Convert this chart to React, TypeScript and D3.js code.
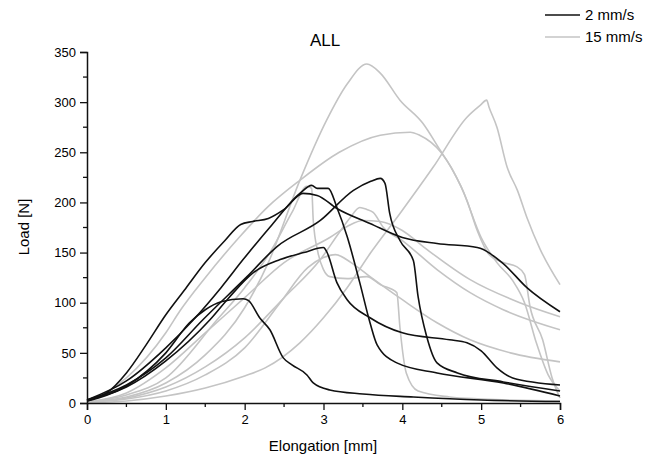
import React, { useEffect, useRef } from "react";
import * as d3 from "d3";

// elongation [mm], load [N] pairs
type Pt = [number, number];

// 2 mm/s runs
const slow1: Pt[] = [[0,2],[0.5,17],[1.0,50],[1.3,80],[1.5,93],[1.7,101],[1.98,104],[2.05,102],[2.19,85],[2.32,73],[2.49,45],[2.6,38],[2.79,28],[2.87,20],[3.08,13],[3.5,9],[4.14,6],[5,3],[6,1.5]];
const slow2: Pt[] = [[0,2],[0.25,10],[0.5,30],[0.75,58],[1.0,88],[1.25,114],[1.5,140],[1.75,162],[1.95,178],[2.1,181],[2.3,184],[2.5,193],[2.74,209],[2.92,207],[3.17,194],[3.59,179],[4.0,165],[4.44,159],[4.95,155],[5.28,139],[5.58,115],[6,91]];
const slow3: Pt[] = [[0,3],[0.5,22],[1.0,55],[1.35,83],[1.7,115],[1.98,143],[2.35,178],[2.7,209],[2.85,217],[2.92,214],[3.06,214],[3.17,195],[3.3,166],[3.46,120],[3.59,80],[3.68,58],[3.93,40],[4.44,30],[5.28,20],[6,7]];
const slow4: Pt[] = [[0,3],[0.5,18],[1.0,45],[1.47,83],[2.03,126],[2.41,156],[2.96,182],[3.38,212],[3.6,221],[3.72,224],[3.78,219],[3.84,189],[3.97,162],[4.14,142],[4.2,106],[4.31,66],[4.44,40],[4.7,30],[5.28,21],[6,12]];
const slow5: Pt[] = [[0,3],[0.5,16],[1.0,42],[1.56,83],[1.8,105],[2.11,130],[2.45,143],[2.75,150],[3.0,155],[3.04,151],[3.17,120],[3.3,103],[3.59,85],[4.0,70],[4.6,63],[4.82,60],[5.0,52],[5.2,35],[5.4,25],[6,18]];

// 15 mm/s runs
const fast1: Pt[] = [[0,1],[0.5,6],[1.0,20],[1.5,48],[2.0,95],[2.3,140],[2.7,222],[3.04,282],[3.3,318],[3.55,338],[3.72,329],[3.97,302],[4.26,279],[4.48,252],[4.64,232],[4.82,202],[4.95,172],[5.1,148],[5.28,140],[5.45,136],[5.55,128],[5.62,96],[5.78,63],[5.9,25],[6,5]];
const fast2: Pt[] = [[0,1],[0.5,25],[1.0,70],[1.18,92],[1.5,125],[1.94,166],[2.3,196],[2.7,222],[3.2,250],[3.72,267],[4.1,270],[4.22,267],[4.5,249],[4.75,215],[5.0,165],[5.2,140],[5.4,122],[5.55,100],[5.7,60],[5.85,28],[6,12]];
const fast3: Pt[] = [[0,0],[0.5,2],[1.0,7],[1.5,15],[2.0,27],[2.26,35],[2.7,60],[3.0,85],[3.3,115],[3.6,150],[3.97,189],[4.39,235],[4.82,285],[4.99,297],[5.07,302],[5.1,295],[5.2,275],[5.33,235],[5.46,212],[5.58,185],[5.75,153],[6,118]];
const fast4: Pt[] = [[0,1],[0.5,5],[1.0,16],[1.5,36],[2.0,65],[2.5,105],[2.96,143],[3.2,170],[3.34,185],[3.46,195],[3.55,193],[3.63,190],[3.76,175],[4.0,162],[4.44,133],[4.86,110],[5.28,93],[6,73]];
const fast5: Pt[] = [[0,1],[0.5,10],[1.0,35],[1.5,70],[2.0,105],[2.5,140],[3.08,165],[3.3,176],[3.5,182],[3.72,181],[4.0,172],[4.28,155],[4.86,123],[5.49,100],[6,86]];
const fast6: Pt[] = [[0,1],[0.5,8],[1.0,25],[1.65,83],[2.0,115],[2.32,150],[2.6,190],[2.79,216],[2.85,214],[2.87,182],[2.93,150],[3.0,133],[3.08,126],[3.3,124],[3.55,126],[3.72,118],[3.93,110],[3.97,75],[4.05,30],[4.2,12],[4.6,6],[5,4],[6,2]];
const fast7: Pt[] = [[0,1],[0.5,4],[1.0,12],[1.5,28],[2.0,55],[2.45,100],[2.8,135],[3.0,145],[3.15,148],[3.35,140],[3.59,126],[4.0,103],[4.44,80],[4.86,63],[5.37,50],[6,41]];

const slowRuns = [slow1, slow2, slow3, slow4, slow5];
const fastRuns = [fast1, fast2, fast3, fast4, fast5, fast6, fast7];

const xTicks = [0, 1, 2, 3, 4, 5, 6];
const yTicks = [0, 50, 100, 150, 200, 250, 300, 350];
const legendLabels = ["2 mm/s", "15 mm/s"];

const WIDTH = 666;
const HEIGHT = 461;
const FONT = "'Liberation Sans', Arial, sans-serif";
const BLACK = "#111";
const GREY = "#c4c4c4";

function App() {
  const svgRef = useRef<SVGSVGElement>(null);

  useEffect(() => {
    document.body.style.margin = "0";
    const svg = d3.select(svgRef.current);
    svg.selectAll("*").remove();

    const x = d3.scaleLinear().domain([0, 6]).range([87, 560]);
    const y = d3.scaleLinear().domain([0, 350]).range([403, 52]);

    const line = d3.line<Pt>()
      .x(d => x(d[0]))
      .y(d => y(d[1]))
      .curve(d3.curveMonotoneX);

    // grey first so the black runs sit on top
    svg.append("g").selectAll("path")
      .data(fastRuns).enter().append("path")
      .attr("d", d => line(d))
      .attr("fill", "none").attr("stroke", GREY).attr("stroke-width", 1.6);

    svg.append("g").selectAll("path")
      .data(slowRuns).enter().append("path")
      .attr("d", d => line(d))
      .attr("fill", "none").attr("stroke", BLACK).attr("stroke-width", 1.6);

    // x axis
    const xAxis = svg.append("g")
      .attr("transform", `translate(0,${y(0)})`)
      .call(d3.axisBottom(x).tickValues(xTicks).tickSize(7).tickPadding(5).tickFormat(d3.format("d")));
    xAxis.append("g").selectAll("line")
      .data(d3.range(0.5, 6, 1)).enter().append("line")
      .attr("x1", d => x(d)).attr("x2", d => x(d))
      .attr("y1", 0).attr("y2", 4).attr("stroke", BLACK).attr("stroke-width", 1.3);

    // y axis
    const yAxis = svg.append("g")
      .attr("transform", `translate(${x(0)},0)`)
      .call(d3.axisLeft(y).tickValues(yTicks).tickSize(7).tickPadding(4));
    yAxis.append("g").selectAll("line")
      .data(d3.range(25, 350, 50)).enter().append("line")
      .attr("y1", d => y(d)).attr("y2", d => y(d))
      .attr("x1", 0).attr("x2", -4).attr("stroke", BLACK).attr("stroke-width", 1.3);

    [xAxis, yAxis].forEach(a => {
      a.select(".domain").attr("stroke", BLACK).attr("stroke-width", 1.5);
      a.selectAll(".tick line").attr("stroke", BLACK).attr("stroke-width", 1.3);
      a.selectAll("text").attr("font-family", FONT).attr("font-size", 13).attr("fill", "#000");
    });

    // titles
    svg.append("text").attr("x", 325).attr("y", 46)
      .attr("text-anchor", "middle").attr("font-family", FONT).attr("font-size", 17)
      .text("ALL");
    svg.append("text").attr("x", 323).attr("y", 451)
      .attr("text-anchor", "middle").attr("font-family", FONT).attr("font-size", 15)
      .text("Elongation [mm]");
    svg.append("text").attr("transform", "translate(29,227) rotate(-90)")
      .attr("text-anchor", "middle").attr("font-family", FONT).attr("font-size", 15)
      .text("Load [N]");

    // legend
    const legend = svg.append("g").selectAll("g")
      .data(legendLabels).enter().append("g")
      .attr("transform", (d, i) => `translate(545,${15 + i * 22})`);
    legend.append("line").attr("x1", 0).attr("x2", 35)
      .attr("stroke", (d, i) => i === 0 ? BLACK : GREY).attr("stroke-width", 1.6);
    legend.append("text").attr("x", 40).attr("y", 5)
      .attr("font-family", FONT).attr("font-size", 15)
      .text(d => d);
  }, []);

  return (
    <svg ref={svgRef} width={WIDTH} height={HEIGHT}
      style={{ display: "block", position: "absolute", left: 0, top: 0, background: "#fff" }} />
  );
}

export default App;
